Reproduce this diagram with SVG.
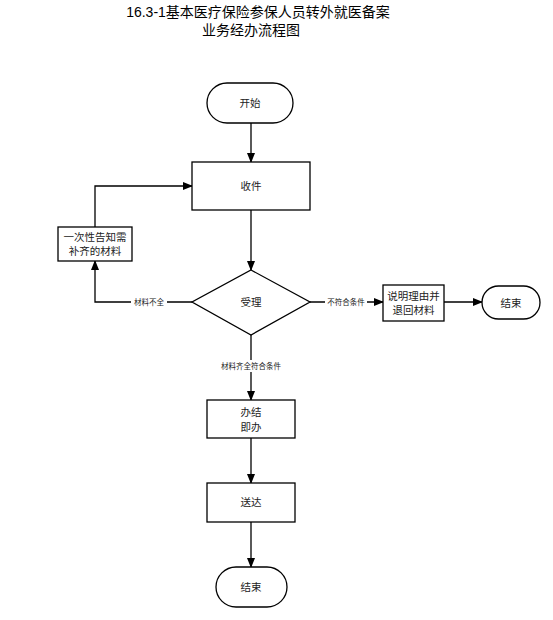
<svg xmlns="http://www.w3.org/2000/svg" width="553" height="620" viewBox="0 0 553 620">
<defs>
<marker id="arr" markerWidth="10" markerHeight="8" refX="9" refY="4" orient="auto" markerUnits="userSpaceOnUse">
<path d="M0,0 L10,4 L0,8 Z" fill="#000"/>
</marker>
<style>
.shape{fill:#fff;stroke:#000;stroke-width:1.3}
.conn{fill:none;stroke:#000;stroke-width:1.3}
.t{font-family:"Liberation Sans","Noto Sans CJK SC",sans-serif;font-size:10.5px;fill:#222;text-anchor:middle;dominant-baseline:central}
.lbl{font-family:"Liberation Sans","Noto Sans CJK SC",sans-serif;font-size:7.5px;fill:#222;text-anchor:middle;dominant-baseline:central}
.title{font-family:"Liberation Sans","Noto Sans CJK SC",sans-serif;font-size:14px;fill:#000;text-anchor:middle}
.bg{fill:#fff}
</style>
</defs>
<rect width="553" height="620" fill="#fff"/>
<g id="title">
<text class="title" x="258" y="17">16.3-1基本医疗保险参保人员转外就医备案</text>
<text class="title" x="251" y="35">业务经办流程图</text>
</g>
<g id="connectors">
<line class="conn" x1="251" y1="123" x2="251" y2="162" marker-end="url(#arr)"/>
<line class="conn" x1="251" y1="210" x2="251" y2="270" marker-end="url(#arr)"/>
<polyline class="conn" points="192,302 95,302 95,261" marker-end="url(#arr)"/>
<polyline class="conn" points="95,227 95,186 192,186" marker-end="url(#arr)"/>
<line class="conn" x1="310" y1="302" x2="383" y2="302" marker-end="url(#arr)"/>
<line class="conn" x1="444" y1="302" x2="482" y2="302" marker-end="url(#arr)"/>
<line class="conn" x1="251" y1="335" x2="251" y2="400" marker-end="url(#arr)"/>
<line class="conn" x1="251" y1="438" x2="251" y2="483" marker-end="url(#arr)"/>
<line class="conn" x1="251" y1="522" x2="251" y2="567" marker-end="url(#arr)"/>
<rect class="bg" x="131" y="296" width="36" height="12"/>
<text class="lbl" x="149" y="302">材料不全</text>
<rect class="bg" x="325" y="296" width="42" height="12"/>
<text class="lbl" x="346" y="302">不符合条件</text>
<rect class="bg" x="216" y="360" width="70" height="12"/>
<text class="lbl" x="251" y="366">材料齐全符合条件</text>
</g>
<g id="start">
<rect class="shape" x="207" y="83" width="86" height="40" rx="20"/>
<text class="t" x="250" y="103">开始</text>
</g>
<g id="receive">
<rect class="shape" x="192" y="162" width="118" height="48"/>
<text class="t" x="251" y="186">收件</text>
</g>
<g id="accept">
<polygon class="shape" points="251,270 310,302 251,335 192,302"/>
<text class="t" x="251" y="302">受理</text>
</g>
<g id="notify">
<rect class="shape" x="58" y="227" width="74" height="34"/>
<text class="t" x="95" y="237">一次性告知需</text>
<text class="t" x="95" y="251">补齐的材料</text>
</g>
<g id="reject">
<rect class="shape" x="383" y="285" width="61" height="36"/>
<text class="t" x="413.5" y="296">说明理由并</text>
<text class="t" x="413.5" y="310">退回材料</text>
</g>
<g id="end1">
<rect class="shape" x="482" y="286" width="58" height="33" rx="16.5"/>
<text class="t" x="511" y="302.5">结束</text>
</g>
<g id="handle">
<rect class="shape" x="207" y="400" width="88" height="38"/>
<text class="t" x="251" y="412">办结</text>
<text class="t" x="251" y="427">即办</text>
</g>
<g id="deliver">
<rect class="shape" x="207" y="483" width="88" height="39"/>
<text class="t" x="251" y="502">送达</text>
</g>
<g id="end2">
<rect class="shape" x="216" y="567" width="71" height="40" rx="20"/>
<text class="t" x="251" y="587">结束</text>
</g>
</svg>
